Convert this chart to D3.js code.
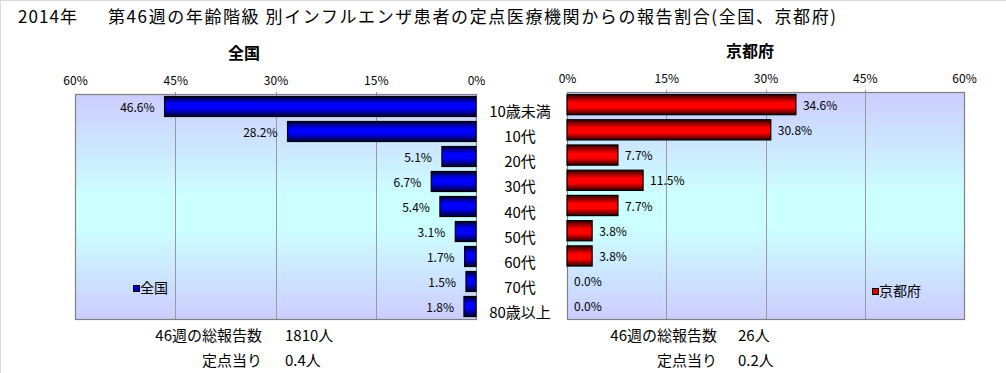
<!DOCTYPE html>
<html>
<head>
<meta charset="utf-8">
<script src="https://cdnjs.cloudflare.com/ajax/libs/d3/7.8.5/d3.min.js"></script>
<style>
  body { margin: 0; background: #fff; }
  svg text { font-family: "Noto Sans CJK JP", "Noto Sans", sans-serif; fill: #000; }
</style>
</head>
<body>
<svg id="viz" width="1006" height="373"></svg>
<script>
// data
var categories = ["10歳未満", "10代", "20代", "30代", "40代", "50代", "60代", "70代", "80歳以上"];
var zenkokuValues = [46.6, 28.2, 5.1, 6.7, 5.4, 3.1, 1.7, 1.5, 1.8];
var kyotoValues = [34.6, 30.8, 7.7, 11.5, 7.7, 3.8, 3.8, 0.0, 0.0];
var tickValues = [0, 15, 30, 45, 60];
var summaryLabels = ["46週の総報告数", "定点当り"];
var zenkokuSummary = ["1810人", "0.4人"];
var kyotoSummary = ["26人", "0.2人"];

var width = 1006, height = 373;
var svg = d3.select("#viz");

svg.append("rect").attr("width", width).attr("height", height).attr("fill", "#fff");
// outer frame (top + left)
svg.append("line").attr("x1", 0).attr("x2", width).attr("y1", 0.5).attr("y2", 0.5).attr("stroke", "#d9d9d9");
svg.append("line").attr("x1", 0.5).attr("x2", 0.5).attr("y1", 0).attr("y2", height).attr("stroke", "#d9d9d9");

var defs = svg.append("defs");

function vGrad(id, stops) {
    var g = defs.append("linearGradient").attr("id", id)
        .attr("x1", 0).attr("y1", 0).attr("x2", 0).attr("y2", 1);
    stops.forEach(function (s) {
        g.append("stop").attr("offset", s[0]).attr("stop-color", s[1]);
    });
}
vGrad("gPlot", [[0, "#ccccff"], [0.45, "#ccffff"], [0.6, "#ccffff"], [1, "#ccccff"]]);
vGrad("gBlue", [[0, "#000030"], [0.35, "#0000ff"], [0.6, "#0000ff"], [1, "#000030"]]);
vGrad("gRed", [[0, "#300000"], [0.4, "#ff0000"], [0.65, "#ff0000"], [1, "#300000"]]);

// title
svg.append("text").attr("x", 18).attr("y", 23).style("font-size", "17px")
    .attr("textLength", 59).attr("lengthAdjust", "spacing").text("2014年");
svg.append("text").attr("x", 108).attr("y", 23).style("font-size", "17px")
    .attr("textLength", 728).attr("lengthAdjust", "spacing")
    .text("第46週の年齢階級 別インフルエンザ患者の定点医療機関からの報告割合(全国、京都府)");

var panels = [
    { name: "全国", values: zenkokuValues, summary: zenkokuSummary, range: [476, 75], top: 94, bottom: 319,
      fill: "url(#gBlue)", legendFill: "#0000cc", titleX: 244, legendX: 133, legendY: 285,
      sumLabelX: 262, sumValueX: 285, side: -1 },
    { name: "京都府", values: kyotoValues, summary: kyotoSummary, range: [567, 964], top: 92, bottom: 319,
      fill: "url(#gRed)", legendFill: "#dd0000", titleX: 750, legendX: 872, legendY: 288,
      sumLabelX: 717, sumValueX: 738, side: 1 }
];

var catY;

panels.forEach(function (p) {
    var x = d3.scaleLinear().domain([0, 60]).range(p.range);
    var y = d3.scaleBand().domain(categories).range([p.top, p.bottom]).paddingInner(0.2).paddingOuter(0.1);
    if (p.side === 1) catY = y;
    var left = Math.min(p.range[0], p.range[1]), right = Math.max(p.range[0], p.range[1]);

    var g = svg.append("g");

    g.append("rect").attr("x", left).attr("y", p.top)
        .attr("width", right - left).attr("height", p.bottom - p.top)
        .attr("fill", "url(#gPlot)");

    g.append("g").selectAll("line")
        .data(tickValues.filter(function (t) { return t > 0 && t < 60; }))
        .enter().append("line")
        .attr("x1", function (d) { return Math.round(x(d)) + 0.5; })
        .attr("x2", function (d) { return Math.round(x(d)) + 0.5; })
        .attr("y1", p.top - 2).attr("y2", p.bottom)
        .attr("stroke", "#9a9a9a");

    g.append("rect").attr("x", left + 0.5).attr("y", p.top + 0.5)
        .attr("width", right - left).attr("height", p.bottom - p.top)
        .attr("fill", "none").attr("stroke", "#808080").attr("stroke-width", 1.2);

    var axis = g.append("g").attr("transform", "translate(0," + p.top + ")")
        .call(d3.axisTop(x).tickValues(tickValues).tickSize(0).tickPadding(9)
            .tickFormat(function (d) { return d + "%"; }));
    axis.select(".domain").remove();
    axis.selectAll("text").style("font-family", '"Noto Sans CJK JP", sans-serif')
        .style("font-size", "12px").attr("dy", "0em");

    g.append("text").attr("x", p.titleX).attr("y", p.top - 35).attr("text-anchor", "middle")
        .style("font-size", "16px").style("font-weight", "bold").text(p.name);

    var rows = categories.map(function (c, i) { return { cat: c, v: p.values[i] }; });

    g.append("g").selectAll("rect")
        .data(rows.filter(function (d) { return d.v > 0; }))
        .enter().append("rect")
        .attr("x", function (d) { return Math.min(x(0), x(d.v)); })
        .attr("width", function (d) { return Math.abs(x(d.v) - x(0)); })
        .attr("y", function (d) { return y(d.cat); })
        .attr("height", y.bandwidth())
        .attr("fill", p.fill)
        .attr("stroke", "#000").attr("stroke-width", 1.2);

    g.append("g").selectAll("text")
        .data(rows)
        .enter().append("text")
        .attr("x", function (d) { return x(d.v) + p.side * (p.side < 0 ? 10 : 7); })
        .attr("y", function (d) { return y(d.cat) + y.bandwidth() / 2 + 5; })
        .attr("text-anchor", p.side < 0 ? "end" : "start")
        .style("font-size", "12px")
        .text(function (d) { return d.v.toFixed(1) + "%"; });

    // legend
    g.append("rect").attr("x", p.legendX + 0.5).attr("y", p.legendY + 0.5).attr("width", 6).attr("height", 6)
        .attr("fill", p.legendFill).attr("stroke", "#000");
    g.append("text").attr("x", p.legendX + 7).attr("y", p.legendY + 8)
        .style("font-size", "14px").text(p.name);

    // summary
    summaryLabels.forEach(function (lab, i) {
        g.append("text").attr("x", p.sumLabelX).attr("y", 341 + i * 25).attr("text-anchor", "end")
            .style("font-size", "15px").text(lab);
        g.append("text").attr("x", p.sumValueX).attr("y", 341 + i * 25)
            .style("font-size", "15px").text(p.summary[i]);
    });
});

// category labels between panels
svg.append("g").selectAll("text")
    .data(categories)
    .enter().append("text")
    .attr("x", 520)
    .attr("y", function (d) { return catY(d) + catY.bandwidth() / 2 + 12; })
    .attr("text-anchor", "middle")
    .style("font-size", "15px")
    .text(function (d) { return d; });
</script>
</body>
</html>
